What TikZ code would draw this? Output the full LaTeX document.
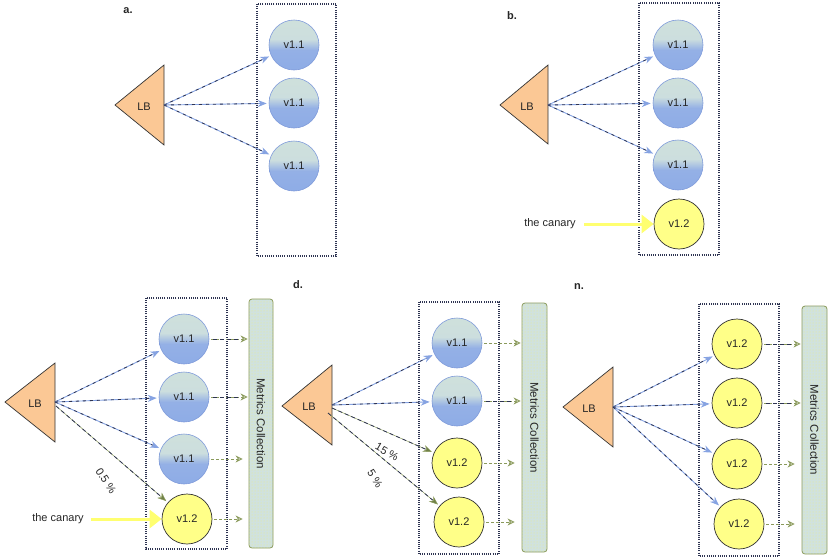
\documentclass[tikz,border=0pt]{standalone}
\usepackage{fontspec}
\setmainfont{Liberation Sans}
\usetikzlibrary{arrows.meta,patterns}

\definecolor{peach}{HTML}{FBC895}
\definecolor{lbline}{HTML}{86A3E2}
\definecolor{dk}{HTML}{2E3452}
\definecolor{olivec}{HTML}{8A9A5B}
\definecolor{olivetip}{HTML}{6F8048}
\definecolor{canaryc}{HTML}{FFFF70}
\definecolor{newfill}{HTML}{FFFF88}
\definecolor{barfill}{HTML}{D0E2DE}
\definecolor{bluebd}{HTML}{7E9ADA}
\definecolor{dotc}{HTML}{EEEE88}

% old release: pale top, blue bottom
\pgfdeclareverticalshading{oldfill}{100bp}{%
  rgb(0bp)=(0.557,0.675,0.902); rgb(25bp)=(0.557,0.675,0.902);
  rgb(45bp)=(0.58,0.69,0.90); rgb(56bp)=(0.80,0.87,0.87);
  rgb(75bp)=(0.81,0.88,0.86); rgb(100bp)=(0.81,0.88,0.86)}

\tikzset{
  txt/.style={font=\fontsize{11}{13}\selectfont, text=black!85, inner sep=0pt},
  oldv/.style={txt, circle, minimum size=50pt, draw=bluebd, line width=0.6pt, shading=oldfill},
  newv/.style={txt, circle, minimum size=50pt, draw=black!80, fill=newfill, line width=0.7pt},
  rack/.style={draw=dk, line width=1.2pt, dash pattern=on 1pt off 1.2pt},
  lbtri/.style={fill=peach, draw=black!80, line width=0.7pt},
  panel/.style={font=\bfseries\fontsize{11}{13}\selectfont, text=black!85},
  route/.style={draw=lbline, line width=0.9pt, shorten >=2pt,
    -{Stealth[length=9pt,width=7pt]},
    postaction={draw=dk, line width=0.8pt, dash pattern=on 3pt off 4pt, arrows=-, shorten >=9pt}},
  pct/.style={draw=olivec, line width=0.5pt, shorten >=2pt,
    -{Stealth[length=9pt,width=7pt,fill=olivetip]},
    postaction={draw=dk, line width=0.8pt, dash pattern=on 4pt off 3pt, arrows=-, shorten >=9pt}},
  metric/.style={draw=olivec, line width=0.8pt, dash pattern=on 3pt off 2pt, shorten <=2pt,
    -{Stealth[length=7pt,width=7pt,open,fill=olivec!40]}},
  metricdk/.style={metric,
    postaction={draw=dk, line width=0.9pt, dash pattern=on 4pt off 3pt, arrows=-, shorten >=10pt, shorten <=4pt}},
  canary/.style={draw=canaryc, line width=3pt, -{Triangle[length=12pt,width=18pt]}},
  bar/.style={draw=olivec, line width=0.8pt, fill=barfill, rounded corners=3pt,
    postaction={pattern=dots, pattern color=dotc}},
  bartxt/.style={txt, rotate=-90, font=\fontsize{11.5}{13}\selectfont}
}

\begin{document}
\begin{tikzpicture}[x=1pt,y=-1pt]
\useasboundingbox (0,0) rectangle (828,557);

% ---------------- a. ----------------
\node[panel] (la) at (128,11) {a.};
\draw[rack] (257,4) rectangle (336,256);
\filldraw[lbtri] (115,105) -- (164,65) -- (164,145) -- cycle;
\coordinate (aLB) at (164,105);
\node[txt] (aT) at (144,107) {LB};
\node[oldv] (a1) at (294,45) {v1.1};
\node[oldv] (a2) at (294,103) {v1.1};
\node[oldv] (a3) at (294,166) {v1.1};
\draw[route] (aLB) -- (a1);
\draw[route] (aLB) -- (a2);
\draw[route] (aLB) -- (a3);

% ---------------- b. ----------------
\node[panel] (lb) at (512,16) {b.};
\draw[rack] (639,3) rectangle (719,255);
\filldraw[lbtri] (500,105) -- (548,65) -- (548,144) -- cycle;
\coordinate (bLB) at (548,105);
\node[txt] (bT) at (527,107) {LB};
\node[oldv] (b1) at (678,45) {v1.1};
\node[oldv] (b2) at (678,103) {v1.1};
\node[oldv] (b3) at (678,165) {v1.1};
\node[newv] (b4) at (679,224) {v1.2};
\draw[route] (bLB) -- (b1);
\draw[route] (bLB) -- (b2);
\draw[route] (bLB) -- (b3);
\node[txt] (bC) at (550,224) {the canary};
\draw[canary] ([xshift=8pt]bC.east) -- (b4.west);

% ---------------- c. ----------------
\draw[rack] (146,298) rectangle (227,549);
\filldraw[lbtri] (5,402) -- (55,363) -- (55,442) -- cycle;
\coordinate (cLB) at (55,402);
\coordinate (cLBp) at (56,406);
\node[txt] (cT) at (35,404) {LB};
\node[oldv] (c1) at (184,339) {v1.1};
\node[oldv] (c2) at (184,397) {v1.1};
\node[oldv] (c3) at (184,459) {v1.1};
\node[newv] (c4) at (187,519) {v1.2};
\node[bar, minimum width=24pt, minimum height=249pt] (cM) at (261,423.5) {};
\node[bartxt] at (cM) {Metrics Collection};
\draw[route] (cLB) -- (c1);
\draw[route] (cLB) -- (c2);
\draw[route] (cLB) -- (c3);
\draw[pct] (cLBp) -- (c4);
\node[txt, rotate=-57] (cP) at (106,481) {0.5 \%};
\node[txt] (cC) at (58,519) {the canary};
\draw[canary] ([xshift=7pt]cC.east) -- (c4.west);
\draw[metricdk, shorten >=1pt] (c1.east) -- (c1.east -| cM.west);
\draw[metricdk, shorten >=1pt] (c2.east) -- (c2.east -| cM.west);
\draw[metric, shorten >=6pt] (c3.east) -- (c3.east -| cM.west);
\draw[metric, shorten >=6pt] (c4.east) -- (c4.east -| cM.west);

% ---------------- d. ----------------
\node[panel] (ld) at (298,285) {d.};
\draw[rack] (419,302) rectangle (499,554);
\filldraw[lbtri] (282,406) -- (332,365) -- (332,445) -- cycle;
\coordinate (dLB) at (332,405);
\coordinate (dLBp) at (332,408);
\coordinate (dLBq) at (328,413);
\node[txt] (dT) at (309,407) {LB};
\node[oldv] (d1) at (457,343) {v1.1};
\node[oldv] (d2) at (457,401) {v1.1};
\node[newv] (d3) at (457,463) {v1.2};
\node[newv] (d4) at (459,522) {v1.2};
\node[bar, minimum width=25pt, minimum height=249pt] (dM) at (534.5,427.5) {};
\node[bartxt] at (dM) {Metrics Collection};
\draw[route] (dLB) -- (d1);
\draw[route] (dLB) -- (d2);
\draw[pct] (dLBp) -- (d3);
\draw[pct] (dLBq) -- (d4);
\node[txt, rotate=-30] (dP1) at (387,452) {15 \%};
\node[txt, rotate=-58] (dP2) at (375,479) {5 \%};
\draw[metric, shorten >=1pt] (d1.east) -- (d1.east -| dM.west);
\draw[metricdk, shorten >=1pt] (d2.east) -- (d2.east -| dM.west);
\draw[metric, shorten >=7pt] (d3.east) -- (d3.east -| dM.west);
\draw[metric, shorten >=7pt] (d4.east) -- (d4.east -| dM.west);

% ---------------- n. ----------------
\node[panel] (ln) at (579,287) {n.};
\draw[rack] (699,304) rectangle (779,556);
\filldraw[lbtri] (563,407) -- (613,367) -- (613,447) -- cycle;
\coordinate (nLB) at (613,407);
\node[txt] (nT) at (589,409) {LB};
\node[newv] (n1) at (737,344) {v1.2};
\node[newv] (n2) at (737,403) {v1.2};
\node[newv] (n3) at (737,464) {v1.2};
\node[newv] (n4) at (739,524) {v1.2};
\node[bar, minimum width=25pt, minimum height=248pt] (nM) at (814.5,430) {};
\node[bartxt] at (nM) {Metrics Collection};
\draw[route] (nLB) -- (n1);
\draw[route] (nLB) -- (n2);
\draw[route] (nLB) -- (n3);
\draw[route] (nLB) -- (n4);
\draw[metricdk, shorten >=1pt] (n1.east) -- (n1.east -| nM.west);
\draw[metricdk, shorten >=1pt] (n2.east) -- (n2.east -| nM.west);
\draw[metric, shorten >=7pt] (n3.east) -- (n3.east -| nM.west);
\draw[metric, shorten >=7pt] (n4.east) -- (n4.east -| nM.west);
\end{tikzpicture}
\end{document}
